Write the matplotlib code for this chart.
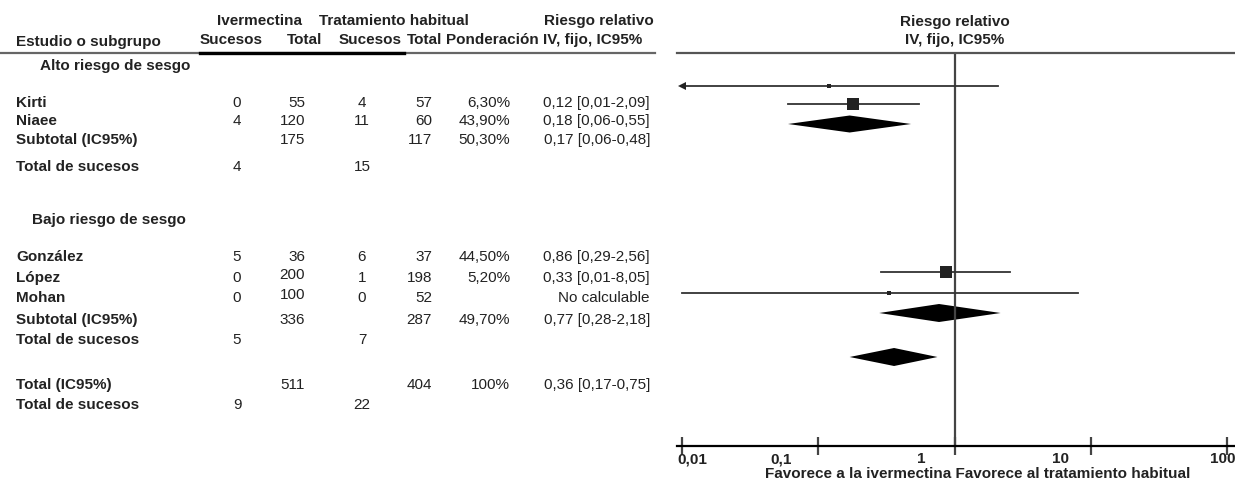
import numpy as np
import matplotlib
matplotlib.use("Agg")
import matplotlib.pyplot as plt

plt.rcParams['font.family'] = ['Liberation Sans', 'DejaVu Sans']

# data
studies = ['Kirti', 'Niaee', 'González', 'López', 'Mohan']
group = ['alto', 'alto', 'bajo', 'bajo', 'bajo']
iver_events = [0, 4, 5, 0, 0]
iver_total = [55, 120, 36, 200, 100]
usual_events = [4, 11, 6, 1, 0]
usual_total = [57, 60, 37, 198, 52]
weights = [6.3, 43.9, 44.5, 5.2, None]
rr = [0.12, 0.18, 0.86, 0.33, None]
rr_lo = [0.01, 0.06, 0.29, 0.01, None]
rr_hi = [2.09, 0.55, 2.56, 8.05, None]

# subtotal high risk, subtotal low risk, overall
sum_labels = ['Subtotal (IC95%)', 'Subtotal (IC95%)', 'Total (IC95%)']
sum_iver_total = [175, 336, 511]
sum_usual_total = [117, 287, 404]
sum_weights = [50.3, 49.7, 100]
sum_rr = [0.17, 0.77, 0.36]
sum_lo = [0.06, 0.28, 0.17]
sum_hi = [0.48, 2.18, 0.75]
sum_iver_events = [4, 5, 9]
sum_usual_events = [15, 7, 22]

tick_vals = [0.01, 0.1, 1, 10, 100]
tick_text = ['0,01', '0,1', '1', '10', '100']


def fmt_rr(e, lo, hi):
    return ('%.2f [%.2f-%.2f]' % (e, lo, hi)).replace('.', ',')


def fmt_w(w):
    if w is None:
        return ''
    if w == 100:
        return '100%'
    return ('%.2f%%' % w).replace('.', ',')


# layout (pixel rows of the scanned table)
row_y = {'Kirti': 103, 'Niaee': 121, 'González': 257, 'López': 278, 'Mohan': 298}
sum_y = [140, 320, 385]
evt_y = [167, 340, 405]
sec_y = {'alto': 66, 'bajo': 220}
forest_y = {'Kirti': 86, 'Niaee': 104, 'González': 272, 'López': 293}
forest_sum_y = [124, 313, 357]
axis_y = 446
top_y = 53

x_lab = 16
x_ie = 237
x_it = 305
x_ue = 362
x_ut = 432
x_w = 510
x_rr = 650

fs = 11
ink = '#222222'

fig = plt.figure(figsize=(12.35, 4.9), dpi=100)
tab = fig.add_axes([0, 0, 1, 1])
tab.set_xlim(0, 1235)
tab.set_ylim(490, 0)
tab.axis('off')

# headers
tab.text(260, 21, 'Ivermectina', ha='center', va='center', fontsize=fs, fontweight='bold', color=ink)
tab.text(394, 21, 'Tratamiento habitual', ha='center', va='center', fontsize=fs, fontweight='bold', color=ink)
tab.text(599, 21, 'Riesgo relativo', ha='center', va='center', fontsize=fs, fontweight='bold', color=ink)
tab.text(x_lab, 42, 'Estudio o subgrupo', ha='left', va='center', fontsize=fs, fontweight='bold', color=ink)
tab.text(263, 40, 'Sucesos', ha='right', va='center', fontsize=fs, fontweight='bold', color=ink)
tab.text(322, 40, 'Total', ha='right', va='center', fontsize=fs, fontweight='bold', color=ink)
tab.text(402, 40, 'Sucesos', ha='right', va='center', fontsize=fs, fontweight='bold', color=ink)
tab.text(442, 40, 'Total', ha='right', va='center', fontsize=fs, fontweight='bold', color=ink)
tab.text(446, 40, 'Ponderación', ha='left', va='center', fontsize=fs, fontweight='bold', color=ink)
tab.text(543, 40, 'IV, fijo, IC95%', ha='left', va='center', fontsize=fs, fontweight='bold', color=ink)
tab.plot([0, 655], [top_y, top_y], color='#666666', lw=1.6)
tab.plot([200, 404], [top_y, top_y], color='black', lw=2.4)

tab.text(40, sec_y['alto'], 'Alto riesgo de sesgo', ha='left', va='center', fontsize=fs, fontweight='bold', color=ink)
tab.text(32, sec_y['bajo'], 'Bajo riesgo de sesgo', ha='left', va='center', fontsize=fs, fontweight='bold', color=ink)

for i, s in enumerate(studies):
    y = row_y[s]
    tab.text(x_lab, y, s, ha='left', va='center', fontsize=fs, fontweight='bold', color=ink)
    tab.text(x_ie, y, str(iver_events[i]), ha='center', va='center', fontsize=fs, color=ink)
    # the scan has the 200 / 100 totals nudged up a little
    dy = -3 if iver_total[i] >= 100 and group[i] == 'bajo' else 0
    tab.text(x_it, y + dy, str(iver_total[i]), ha='right', va='center', fontsize=fs, color=ink)
    tab.text(x_ue, y, str(usual_events[i]), ha='center', va='center', fontsize=fs, color=ink)
    tab.text(x_ut, y, str(usual_total[i]), ha='right', va='center', fontsize=fs, color=ink)
    tab.text(x_w, y, fmt_w(weights[i]), ha='right', va='center', fontsize=fs, color=ink)
    if rr[i] is None:
        tab.text(x_rr, y, 'No calculable', ha='right', va='center', fontsize=fs, color=ink)
    else:
        tab.text(x_rr, y, fmt_rr(rr[i], rr_lo[i], rr_hi[i]), ha='right', va='center', fontsize=fs, color=ink)

for k in range(3):
    y = sum_y[k]
    tab.text(x_lab, y, sum_labels[k], ha='left', va='center', fontsize=fs, fontweight='bold', color=ink)
    tab.text(x_it, y, str(sum_iver_total[k]), ha='right', va='center', fontsize=fs, color=ink)
    tab.text(x_ut, y, str(sum_usual_total[k]), ha='right', va='center', fontsize=fs, color=ink)
    tab.text(x_w, y, fmt_w(sum_weights[k]), ha='right', va='center', fontsize=fs, color=ink)
    tab.text(x_rr, y, fmt_rr(sum_rr[k], sum_lo[k], sum_hi[k]), ha='right', va='center', fontsize=fs, color=ink)
    y = evt_y[k]
    tab.text(x_lab, y, 'Total de sucesos', ha='left', va='center', fontsize=fs, fontweight='bold', color=ink)
    tab.text(x_ie, y, str(sum_iver_events[k]), ha='center', va='center', fontsize=fs, color=ink)
    tab.text(x_ue, y, str(sum_usual_events[k]), ha='center', va='center', fontsize=fs, color=ink)

# forest plot, y in the same pixel rows
dec = (1227 - 682) / 4.0
x0 = 10 ** (-2 - 5 / dec)
x1 = 10 ** (2 + 8 / dec)
ax = fig.add_axes([677 / 1235, (490 - axis_y) / 490, (1235 - 677) / 1235, (axis_y - top_y) / 490])
ax.set_xscale('log')
ax.set_xlim(x0, x1)
ax.set_ylim(axis_y, top_y)
ax.patch.set_alpha(0)
for side in ['left', 'right']:
    ax.spines[side].set_visible(False)
ax.spines['top'].set_color('#555555')
ax.spines['top'].set_linewidth(1.6)
ax.spines['bottom'].set_color('black')
ax.spines['bottom'].set_linewidth(1.6)
ax.set_yticks([])
ax.set_xticks(tick_vals)
ax.xaxis.set_minor_locator(matplotlib.ticker.NullLocator())
ax.set_xticklabels([])
ax.tick_params(axis='x', direction='inout', length=13, width=1.6, color='#444444')
ax.axvline(1, color='#444444', lw=1.6)

line_c = '#333333'
for i, s in enumerate(studies):
    if rr[i] is None:
        continue
    y = forest_y[s]
    ax.plot([rr_lo[i], rr_hi[i]], [y, y], color=line_c, lw=1.3)
    ms = 13 * np.sqrt(weights[i] / 100.0)
    ax.plot(rr[i], y, marker='s', markersize=ms, color=ink, markeredgewidth=0)
    if s == 'Kirti':
        ax.plot(rr_lo[i], y, marker='<', markersize=6, color=ink, markeredgewidth=0, clip_on=False)

for k in range(3):
    y = forest_sum_y[k]
    h = 8.5 if k == 0 else 9
    ax.fill([sum_lo[k], sum_rr[k], sum_hi[k], sum_rr[k]], [y, y - h, y, y + h], color='black', lw=0)

# tick labels sit a little off the ticks in the source scan
label_x = [0.0119, 0.0537, 0.573, 6.0, 92.7]
for v, t in zip(label_x, tick_text):
    ax.text(v, axis_y + 13, t, ha='center', va='center', fontsize=fs, fontweight='bold', color=ink, clip_on=False)

ax.text(1.475, axis_y + 28, 'Favorece a la ivermectina Favorece al tratamiento habitual', ha='center', va='center',
        fontsize=fs, fontweight='bold', color=ink, clip_on=False)
ax.text(1, 22, 'Riesgo relativo', ha='center', va='center', fontsize=fs, fontweight='bold', color=ink, clip_on=False)
ax.text(1, 40, 'IV, fijo, IC95%', ha='center', va='center', fontsize=fs, fontweight='bold', color=ink, clip_on=False)

fig.savefig('out.png', dpi=100, facecolor='white')
